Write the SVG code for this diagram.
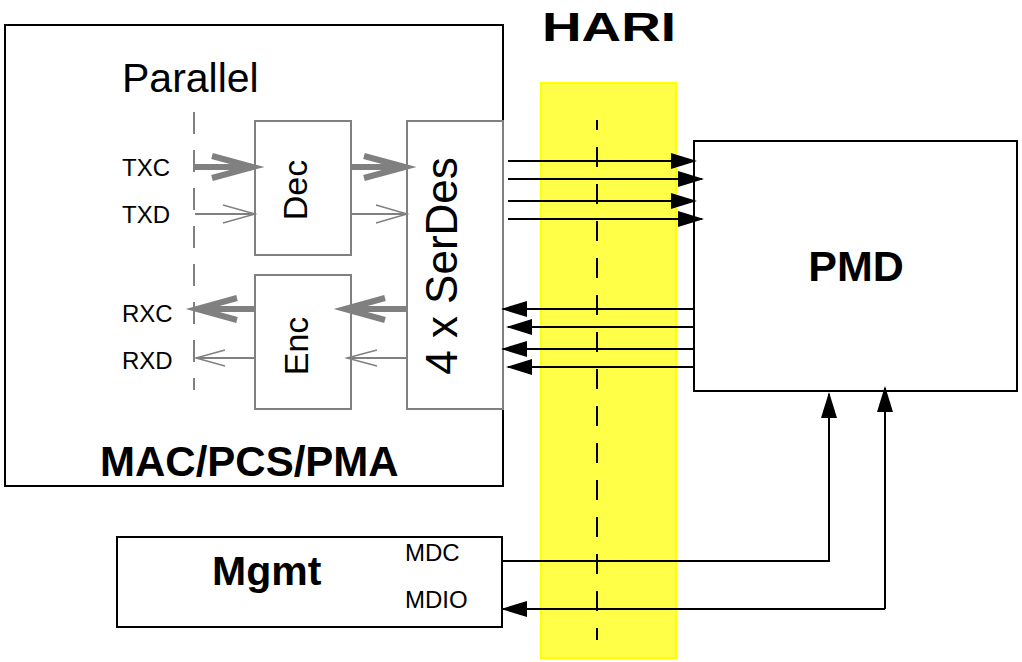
<svg xmlns="http://www.w3.org/2000/svg" width="1022" height="662" viewBox="0 0 1022 662">
<style>
text{font-family:"Liberation Sans",Arial,sans-serif;fill:#000}
.blk{fill:#fff;stroke:#000;stroke-width:2}
.gry{fill:#fff;stroke:#808080;stroke-width:2}
.lbl{font-size:24px}
.bold{font-weight:bold}
.thick{stroke:#808080;stroke-width:6;fill:none}
.thin{stroke:#808080;stroke-width:2;fill:none}
.chev{stroke:#808080;fill:none;stroke-linejoin:miter}
.wire{stroke:#000;stroke-width:2;fill:none}
</style>
<defs>
<marker id="ah" viewBox="0 0 26 16" refX="24" refY="8" markerWidth="26" markerHeight="16" markerUnits="userSpaceOnUse" orient="auto"><path d="M0,0 L26,8 L0,16 Z" fill="#000"/></marker>
</defs>
<g id="hari">
<rect x="541" y="83" width="135" height="575" fill="#ffff48" stroke="#ffff00" stroke-width="2"/>
<line x1="597" y1="120" x2="597" y2="640" stroke="#000" stroke-width="2" stroke-dasharray="20 17" stroke-dashoffset="10"/>
<text x="542" y="41" class="bold" font-size="40" textLength="134" lengthAdjust="spacingAndGlyphs">HARI</text>
</g>
<g id="mac">
<rect class="blk" x="5" y="25" width="498" height="461"/>
<text x="122" y="92" font-size="41">Parallel</text>
<text x="100" y="476" class="bold" font-size="42">MAC/PCS/PMA</text>
<line x1="194" y1="112" x2="194" y2="390" stroke="#808080" stroke-width="2" stroke-dasharray="22 16"/>
<text x="122" y="176" class="lbl">TXC</text>
<text x="122" y="223" class="lbl">TXD</text>
<text x="122" y="322" class="lbl">RXC</text>
<text x="122" y="369" class="lbl">RXD</text>
</g>
<g id="dec">
<rect class="gry" x="255" y="121" width="96" height="134"/>
<text transform="translate(307,190) rotate(-90)" text-anchor="middle" font-size="34">Dec</text>
</g>
<g id="enc">
<rect class="gry" x="255" y="275" width="96" height="134"/>
<text transform="translate(308,346) rotate(-90)" text-anchor="middle" font-size="34">Enc</text>
</g>
<g id="serdes">
<rect class="gry" x="407" y="121" width="96" height="288"/>
<text transform="translate(457,266) rotate(-90)" text-anchor="middle" font-size="44">4 x SerDes</text>
</g>
<g id="pmd">
<rect class="blk" x="694" y="141" width="323" height="250"/>
<text x="856" y="281" text-anchor="middle" class="bold" font-size="43">PMD</text>
</g>
<g id="mgmt">
<rect class="blk" x="117" y="537" width="385" height="90"/>
<text x="212" y="585" class="bold" font-size="41">Mgmt</text>
<text x="405" y="561" class="lbl">MDC</text>
<text x="405" y="608" class="lbl">MDIO</text>
</g>
<g id="connectors">
<line class="thick" x1="195" y1="167" x2="248" y2="167"/>
<polyline class="chev" stroke-width="6" points="212,156 253,167 212,178"/>
<line class="thin" x1="195" y1="214" x2="254" y2="214"/>
<polyline class="chev" stroke-width="1.5" points="223,205 255,214 223,223"/>
<line class="thick" x1="351" y1="167" x2="400" y2="167"/>
<polyline class="chev" stroke-width="6" points="364,156 405,167 364,178"/>
<line class="thin" x1="351" y1="214" x2="406" y2="214"/>
<polyline class="chev" stroke-width="1.5" points="376,205 407,214 376,223"/>
<line class="thick" x1="255" y1="309" x2="203" y2="309"/>
<polyline class="chev" stroke-width="6" points="237,298 197,309 237,320"/>
<line class="thin" x1="255" y1="358" x2="196" y2="358"/>
<polyline class="chev" stroke-width="1.5" points="225,350 196,358 225,366"/>
<line class="thick" x1="407" y1="309" x2="350" y2="309"/>
<polyline class="chev" stroke-width="6" points="385,298 345,309 385,320"/>
<line class="thin" x1="407" y1="358" x2="347" y2="358"/>
<polyline class="chev" stroke-width="1.5" points="377,350 347,358 377,366"/>
<line class="wire" x1="508" y1="161" x2="695" y2="161" marker-end="url(#ah)"/>
<line class="wire" x1="508" y1="179" x2="702" y2="179" marker-end="url(#ah)"/>
<line class="wire" x1="508" y1="201" x2="695" y2="201" marker-end="url(#ah)"/>
<line class="wire" x1="508" y1="219" x2="702" y2="219" marker-end="url(#ah)"/>
<line class="wire" x1="694" y1="309" x2="503" y2="309" marker-end="url(#ah)"/>
<line class="wire" x1="694" y1="327" x2="508" y2="327" marker-end="url(#ah)"/>
<line class="wire" x1="694" y1="349" x2="503" y2="349" marker-end="url(#ah)"/>
<line class="wire" x1="694" y1="367" x2="508" y2="367" marker-end="url(#ah)"/>
<polyline class="wire" points="502,561 829,561 829,394" marker-end="url(#ah)"/>
<polyline class="wire" points="885,609 885,388" marker-end="url(#ah)"/>
<line class="wire" x1="885" y1="609" x2="503" y2="609" marker-end="url(#ah)"/>
</g>
</svg>
